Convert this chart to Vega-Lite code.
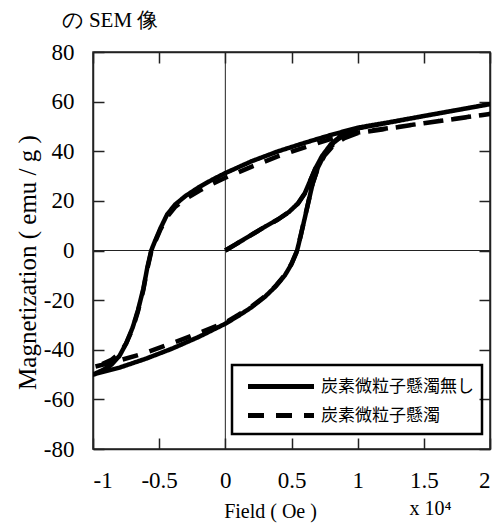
{
  "$schema": "https://vega.github.io/schema/vega-lite/v6.json",
  "width": 397,
  "height": 397,
  "autosize": {"type": "none"},
  "padding": {"left": 93, "top": 52, "right": 13, "bottom": 74},
  "background": "white",
  "datasets": {
    "curves": [
      {"s": "炭素微粒子懸濁無し", "i": 0, "x": 0, "y": 0},
      {"s": "炭素微粒子懸濁無し", "i": 1, "x": 0.1, "y": 3.2},
      {"s": "炭素微粒子懸濁無し", "i": 2, "x": 0.2, "y": 6.4},
      {"s": "炭素微粒子懸濁無し", "i": 3, "x": 0.3, "y": 9.6},
      {"s": "炭素微粒子懸濁無し", "i": 4, "x": 0.4, "y": 12.6},
      {"s": "炭素微粒子懸濁無し", "i": 5, "x": 0.48, "y": 15.5},
      {"s": "炭素微粒子懸濁無し", "i": 6, "x": 0.55, "y": 19},
      {"s": "炭素微粒子懸濁無し", "i": 7, "x": 0.6, "y": 23},
      {"s": "炭素微粒子懸濁無し", "i": 8, "x": 0.64, "y": 28},
      {"s": "炭素微粒子懸濁無し", "i": 9, "x": 0.68, "y": 33},
      {"s": "炭素微粒子懸濁無し", "i": 10, "x": 0.73, "y": 38},
      {"s": "炭素微粒子懸濁無し", "i": 11, "x": 0.8, "y": 43},
      {"s": "炭素微粒子懸濁無し", "i": 12, "x": 0.88, "y": 46.5},
      {"s": "炭素微粒子懸濁無し", "i": 13, "x": 1.0, "y": 49.3},
      {"s": "炭素微粒子懸濁無し", "i": 14, "x": 1.25, "y": 51.8},
      {"s": "炭素微粒子懸濁無し", "i": 15, "x": 1.5, "y": 54.2},
      {"s": "炭素微粒子懸濁無し", "i": 16, "x": 1.75, "y": 56.6},
      {"s": "炭素微粒子懸濁無し", "i": 17, "x": 2.0, "y": 59},
      {"s": "炭素微粒子懸濁無し", "i": 18, "x": 1.75, "y": 56.6},
      {"s": "炭素微粒子懸濁無し", "i": 19, "x": 1.5, "y": 54.2},
      {"s": "炭素微粒子懸濁無し", "i": 20, "x": 1.25, "y": 51.8},
      {"s": "炭素微粒子懸濁無し", "i": 21, "x": 1.0, "y": 49.5},
      {"s": "炭素微粒子懸濁無し", "i": 22, "x": 0.8, "y": 46.6},
      {"s": "炭素微粒子懸濁無し", "i": 23, "x": 0.6, "y": 43.4},
      {"s": "炭素微粒子懸濁無し", "i": 24, "x": 0.4, "y": 40},
      {"s": "炭素微粒子懸濁無し", "i": 25, "x": 0.2, "y": 36},
      {"s": "炭素微粒子懸濁無し", "i": 26, "x": 0, "y": 31.2},
      {"s": "炭素微粒子懸濁無し", "i": 27, "x": -0.1, "y": 28.5},
      {"s": "炭素微粒子懸濁無し", "i": 28, "x": -0.2, "y": 25.5},
      {"s": "炭素微粒子懸濁無し", "i": 29, "x": -0.3, "y": 22},
      {"s": "炭素微粒子懸濁無し", "i": 30, "x": -0.38, "y": 18.5},
      {"s": "炭素微粒子懸濁無し", "i": 31, "x": -0.44, "y": 14.5},
      {"s": "炭素微粒子懸濁無し", "i": 32, "x": -0.49, "y": 9},
      {"s": "炭素微粒子懸濁無し", "i": 33, "x": -0.53, "y": 4},
      {"s": "炭素微粒子懸濁無し", "i": 34, "x": -0.56, "y": 0},
      {"s": "炭素微粒子懸濁無し", "i": 35, "x": -0.59, "y": -7},
      {"s": "炭素微粒子懸濁無し", "i": 36, "x": -0.62, "y": -15.5},
      {"s": "炭素微粒子懸濁無し", "i": 37, "x": -0.66, "y": -24},
      {"s": "炭素微粒子懸濁無し", "i": 38, "x": -0.7, "y": -31},
      {"s": "炭素微粒子懸濁無し", "i": 39, "x": -0.75, "y": -37.5},
      {"s": "炭素微粒子懸濁無し", "i": 40, "x": -0.8, "y": -42.5},
      {"s": "炭素微粒子懸濁無し", "i": 41, "x": -0.86, "y": -46},
      {"s": "炭素微粒子懸濁無し", "i": 42, "x": -0.93, "y": -48.3},
      {"s": "炭素微粒子懸濁無し", "i": 43, "x": -1.0, "y": -50},
      {"s": "炭素微粒子懸濁無し", "i": 44, "x": -0.8, "y": -47.2},
      {"s": "炭素微粒子懸濁無し", "i": 45, "x": -0.6, "y": -43.6},
      {"s": "炭素微粒子懸濁無し", "i": 46, "x": -0.4, "y": -39.5},
      {"s": "炭素微粒子懸濁無し", "i": 47, "x": -0.2, "y": -34.8},
      {"s": "炭素微粒子懸濁無し", "i": 48, "x": 0, "y": -29.5},
      {"s": "炭素微粒子懸濁無し", "i": 49, "x": 0.1, "y": -26.3},
      {"s": "炭素微粒子懸濁無し", "i": 50, "x": 0.2, "y": -22.8},
      {"s": "炭素微粒子懸濁無し", "i": 51, "x": 0.3, "y": -18.6},
      {"s": "炭素微粒子懸濁無し", "i": 52, "x": 0.38, "y": -14.5},
      {"s": "炭素微粒子懸濁無し", "i": 53, "x": 0.45, "y": -10},
      {"s": "炭素微粒子懸濁無し", "i": 54, "x": 0.5, "y": -5.5},
      {"s": "炭素微粒子懸濁無し", "i": 55, "x": 0.54, "y": -0.5},
      {"s": "炭素微粒子懸濁無し", "i": 56, "x": 0.57, "y": 6},
      {"s": "炭素微粒子懸濁無し", "i": 57, "x": 0.6, "y": 13},
      {"s": "炭素微粒子懸濁無し", "i": 58, "x": 0.63, "y": 20},
      {"s": "炭素微粒子懸濁無し", "i": 59, "x": 0.66, "y": 27},
      {"s": "炭素微粒子懸濁無し", "i": 60, "x": 0.7, "y": 33.5},
      {"s": "炭素微粒子懸濁無し", "i": 61, "x": 0.75, "y": 38.8},
      {"s": "炭素微粒子懸濁無し", "i": 62, "x": 0.82, "y": 43.5},
      {"s": "炭素微粒子懸濁無し", "i": 63, "x": 0.9, "y": 46.8},
      {"s": "炭素微粒子懸濁無し", "i": 64, "x": 1.0, "y": 49.2},
      {"s": "炭素微粒子懸濁無し", "i": 65, "x": 1.5, "y": 54.2},
      {"s": "炭素微粒子懸濁無し", "i": 66, "x": 2.0, "y": 59},
      {"s": "炭素微粒子懸濁", "i": 0, "x": 0, "y": 0},
      {"s": "炭素微粒子懸濁", "i": 1, "x": 0.1, "y": 3.2},
      {"s": "炭素微粒子懸濁", "i": 2, "x": 0.2, "y": 6.4},
      {"s": "炭素微粒子懸濁", "i": 3, "x": 0.3, "y": 9.6},
      {"s": "炭素微粒子懸濁", "i": 4, "x": 0.4, "y": 12.6},
      {"s": "炭素微粒子懸濁", "i": 5, "x": 0.48, "y": 15.5},
      {"s": "炭素微粒子懸濁", "i": 6, "x": 0.55, "y": 19},
      {"s": "炭素微粒子懸濁", "i": 7, "x": 0.6, "y": 23},
      {"s": "炭素微粒子懸濁", "i": 8, "x": 0.64, "y": 28},
      {"s": "炭素微粒子懸濁", "i": 9, "x": 0.68, "y": 33},
      {"s": "炭素微粒子懸濁", "i": 10, "x": 0.73, "y": 37.5},
      {"s": "炭素微粒子懸濁", "i": 11, "x": 0.8, "y": 42},
      {"s": "炭素微粒子懸濁", "i": 12, "x": 0.88, "y": 45},
      {"s": "炭素微粒子懸濁", "i": 13, "x": 1.0, "y": 47.3},
      {"s": "炭素微粒子懸濁", "i": 14, "x": 1.25, "y": 49.4},
      {"s": "炭素微粒子懸濁", "i": 15, "x": 1.5, "y": 51.3},
      {"s": "炭素微粒子懸濁", "i": 16, "x": 1.75, "y": 53.2},
      {"s": "炭素微粒子懸濁", "i": 17, "x": 2.0, "y": 55},
      {"s": "炭素微粒子懸濁", "i": 18, "x": 1.75, "y": 53.2},
      {"s": "炭素微粒子懸濁", "i": 19, "x": 1.5, "y": 51.3},
      {"s": "炭素微粒子懸濁", "i": 20, "x": 1.25, "y": 49.4},
      {"s": "炭素微粒子懸濁", "i": 21, "x": 1.0, "y": 47.5},
      {"s": "炭素微粒子懸濁", "i": 22, "x": 0.8, "y": 45},
      {"s": "炭素微粒子懸濁", "i": 23, "x": 0.6, "y": 41.6},
      {"s": "炭素微粒子懸濁", "i": 24, "x": 0.4, "y": 38},
      {"s": "炭素微粒子懸濁", "i": 25, "x": 0.2, "y": 33.8},
      {"s": "炭素微粒子懸濁", "i": 26, "x": 0, "y": 29.3},
      {"s": "炭素微粒子懸濁", "i": 27, "x": -0.1, "y": 26.8},
      {"s": "炭素微粒子懸濁", "i": 28, "x": -0.2, "y": 24},
      {"s": "炭素微粒子懸濁", "i": 29, "x": -0.3, "y": 20.8},
      {"s": "炭素微粒子懸濁", "i": 30, "x": -0.38, "y": 17.5},
      {"s": "炭素微粒子懸濁", "i": 31, "x": -0.44, "y": 13.5},
      {"s": "炭素微粒子懸濁", "i": 32, "x": -0.49, "y": 8.5},
      {"s": "炭素微粒子懸濁", "i": 33, "x": -0.53, "y": 3.5},
      {"s": "炭素微粒子懸濁", "i": 34, "x": -0.56, "y": -0.5},
      {"s": "炭素微粒子懸濁", "i": 35, "x": -0.59, "y": -7.5},
      {"s": "炭素微粒子懸濁", "i": 36, "x": -0.62, "y": -16},
      {"s": "炭素微粒子懸濁", "i": 37, "x": -0.66, "y": -24.5},
      {"s": "炭素微粒子懸濁", "i": 38, "x": -0.7, "y": -31.5},
      {"s": "炭素微粒子懸濁", "i": 39, "x": -0.75, "y": -37.5},
      {"s": "炭素微粒子懸濁", "i": 40, "x": -0.8, "y": -41.5},
      {"s": "炭素微粒子懸濁", "i": 41, "x": -0.86, "y": -44},
      {"s": "炭素微粒子懸濁", "i": 42, "x": -0.93, "y": -45.8},
      {"s": "炭素微粒子懸濁", "i": 43, "x": -1.0, "y": -47},
      {"s": "炭素微粒子懸濁", "i": 44, "x": -0.8, "y": -44.3},
      {"s": "炭素微粒子懸濁", "i": 45, "x": -0.6, "y": -41.2},
      {"s": "炭素微粒子懸濁", "i": 46, "x": -0.4, "y": -37.3},
      {"s": "炭素微粒子懸濁", "i": 47, "x": -0.2, "y": -33.3},
      {"s": "炭素微粒子懸濁", "i": 48, "x": 0, "y": -29},
      {"s": "炭素微粒子懸濁", "i": 49, "x": 0.1, "y": -25.9},
      {"s": "炭素微粒子懸濁", "i": 50, "x": 0.2, "y": -22.5},
      {"s": "炭素微粒子懸濁", "i": 51, "x": 0.3, "y": -18.4},
      {"s": "炭素微粒子懸濁", "i": 52, "x": 0.38, "y": -14.3},
      {"s": "炭素微粒子懸濁", "i": 53, "x": 0.45, "y": -9.8},
      {"s": "炭素微粒子懸濁", "i": 54, "x": 0.5, "y": -5.3},
      {"s": "炭素微粒子懸濁", "i": 55, "x": 0.54, "y": -0.3},
      {"s": "炭素微粒子懸濁", "i": 56, "x": 0.57, "y": 6.2},
      {"s": "炭素微粒子懸濁", "i": 57, "x": 0.6, "y": 13.2},
      {"s": "炭素微粒子懸濁", "i": 58, "x": 0.63, "y": 20.2},
      {"s": "炭素微粒子懸濁", "i": 59, "x": 0.66, "y": 27},
      {"s": "炭素微粒子懸濁", "i": 60, "x": 0.7, "y": 33.3},
      {"s": "炭素微粒子懸濁", "i": 61, "x": 0.75, "y": 38.3},
      {"s": "炭素微粒子懸濁", "i": 62, "x": 0.82, "y": 42.5},
      {"s": "炭素微粒子懸濁", "i": 63, "x": 0.9, "y": 45.3},
      {"s": "炭素微粒子懸濁", "i": 64, "x": 1.0, "y": 47.3},
      {"s": "炭素微粒子懸濁", "i": 65, "x": 1.5, "y": 51.3},
      {"s": "炭素微粒子懸濁", "i": 66, "x": 2.0, "y": 55}
    ],
    "zero": [{"z": 0}],
    "note": [{"tx": 1.55, "ty": -104, "t": "x 10⁴"}],
    "head": [{"tx": -0.8715, "ty": 90, "t": "の SEM 像"}]
  },
  "resolve": {"axis": {"x": "independent", "y": "independent"}},
  "layer": [
    {
      "data": {"name": "zero"},
      "mark": {"type": "rule", "color": "#222", "strokeWidth": 1},
      "encoding": {
        "x": {
          "field": "z", "type": "quantitative",
          "scale": {"domain": [-1, 2], "nice": false, "zero": false},
          "axis": {
            "orient": "top", "labels": false, "title": null,
            "values": [-1, -0.5, 0, 0.5, 1, 1.5, 2], "tickSize": -11
          }
        }
      }
    },
    {
      "data": {"name": "zero"},
      "mark": {"type": "rule", "color": "#222", "strokeWidth": 1},
      "encoding": {
        "y": {
          "field": "z", "type": "quantitative",
          "scale": {"domain": [-80, 80], "nice": false, "zero": false},
          "axis": {
            "orient": "right", "labels": false, "title": null,
            "values": [-80, -60, -40, -20, 0, 20, 40, 60, 80], "tickSize": -11
          }
        }
      }
    },
    {
      "data": {"name": "curves"},
      "mark": {"type": "line", "color": "black", "strokeWidth": 4.5, "strokeCap": "butt", "strokeJoin": "round", "clip": true},
      "encoding": {
        "x": {
          "field": "x", "type": "quantitative",
          "scale": {"domain": [-1, 2], "nice": false, "zero": false},
          "axis": {
            "orient": "bottom",
            "values": [-1, -0.5, 0, 0.5, 1, 1.5, 2],
            "labelExpr": "datum.value + ''",
            "labelFont": "Liberation Serif, Times New Roman, serif",
            "labelFontSize": 23,
            "tickSize": -11,
            "labelPadding": 31,
            "title": "Field ( Oe )",
            "titleFont": "Liberation Serif, Times New Roman, serif",
            "titleFontSize": 20,
            "titleFontWeight": "normal",
            "titleX": 177,
            "titleY": 62,
            "titleBaseline": "middle",
            "titleAlign": "center"
          }
        },
        "y": {
          "field": "y", "type": "quantitative",
          "scale": {"domain": [-80, 80], "nice": false, "zero": false},
          "axis": {
            "orient": "left",
            "values": [-80, -60, -40, -20, 0, 20, 40, 60, 80],
            "labelExpr": "datum.value + ''",
            "labelFont": "Liberation Serif, Times New Roman, serif",
            "labelFontSize": 23,
            "tickSize": -11,
            "labelPadding": 30,
            "title": "Magnetization ( emu / g )",
            "titleFont": "Liberation Serif, Times New Roman, serif",
            "titleFontSize": 25,
            "titleFontWeight": "normal",
            "titleX": -66,
            "titleY": 210,
            "titleAngle": -90,
            "titleBaseline": "middle",
            "titleAlign": "center"
          }
        },
        "order": {"field": "i", "type": "quantitative"},
        "strokeDash": {
          "field": "s", "type": "nominal",
          "scale": {"domain": ["炭素微粒子懸濁無し", "炭素微粒子懸濁"], "range": [[1, 0], [16, 12]]},
          "legend": {
            "title": null,
            "orient": "none",
            "legendX": 139,
            "legendY": 313,
            "symbolType": "M-0.5,0H5.5",
            "symbolSize": 484,
            "symbolStrokeWidth": 5,
            "symbolStrokeColor": "black",
            "labelFont": "Noto Sans CJK JP",
            "labelFontSize": 17,
            "labelColor": "black",
            "labelOffset": 54,
            "padding": 8,
            "rowPadding": 5,
            "strokeColor": "black"
          }
        }
      }
    },
    {
      "data": {"name": "note"},
      "mark": {"type": "text", "font": "Liberation Serif, Times New Roman, serif", "fontSize": 20, "color": "black", "align": "center", "baseline": "middle"},
      "encoding": {
        "x": {"field": "tx", "type": "quantitative", "scale": {"domain": [-1, 2], "nice": false, "zero": false}, "axis": null},
        "y": {"field": "ty", "type": "quantitative", "scale": {"domain": [-80, 80], "nice": false, "zero": false}, "axis": null},
        "text": {"field": "t"}
      }
    },
    {
      "data": {"name": "head"},
      "mark": {"type": "text", "font": "Liberation Serif, Times New Roman, serif", "fontSize": 21, "color": "black", "align": "center", "baseline": "alphabetic"},
      "encoding": {
        "x": {"field": "tx", "type": "quantitative", "scale": {"domain": [-1, 2], "nice": false, "zero": false}, "axis": null},
        "y": {"field": "ty", "type": "quantitative", "scale": {"domain": [-80, 80], "nice": false, "zero": false}, "axis": null},
        "text": {"field": "t"}
      }
    }
  ],
  "config": {
    "view": {"stroke": "#222", "strokeWidth": 1.5},
    "axis": {
      "grid": false,
      "domainColor": "#222",
      "domainWidth": 1.5,
      "tickColor": "#222",
      "tickWidth": 1.5,
      "labelFont": "Liberation Serif, Times New Roman, serif",
      "labelFontSize": 23,
      "labelColor": "black",
      "titleColor": "black"
    },
    "legend": {"strokeWidth": 2.5}
  }
}
